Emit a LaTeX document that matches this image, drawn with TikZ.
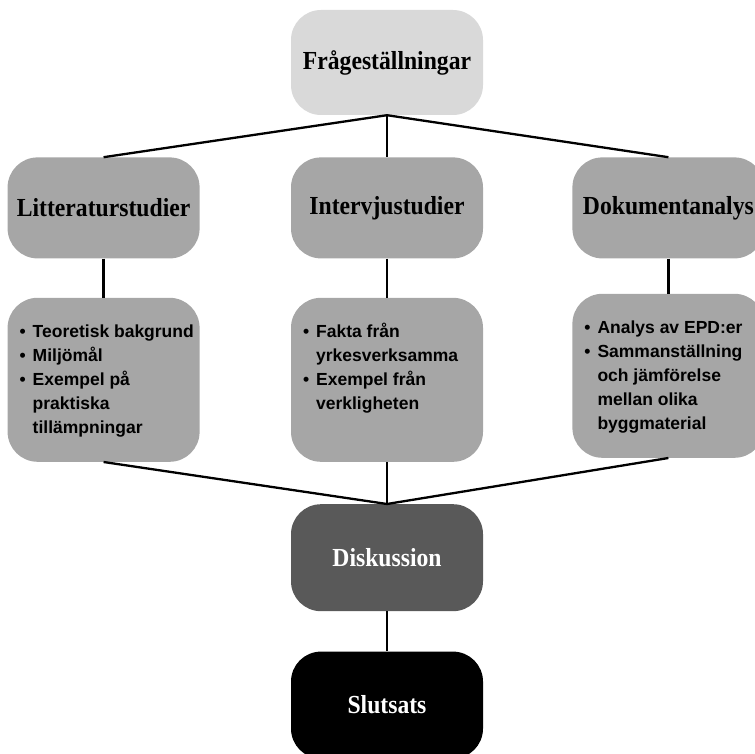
\documentclass[tikz,border=0pt]{standalone}
\usepackage{fontspec}
\setmainfont{Liberation Serif}
\newfontfamily\capfont[FakeStretch=0.91]{Liberation Serif}
\newfontfamily\bulletfont{Liberation Sans}
\usetikzlibrary{positioning}
\definecolor{questfill}{HTML}{D9D9D9}
\definecolor{methodfill}{HTML}{A6A6A6}
\definecolor{discfill}{HTML}{595959}
\newcommand{\factlist}[1]{\parbox[c][118pt][t]{168pt}{\begin{tabular}[t]{@{}c@{\hspace{7pt}}l@{}}#1\end{tabular}}}

\begin{document}
\begin{tikzpicture}[
  x=1pt, y=1pt,
  stage/.style={rounded corners=30pt, minimum width=192pt, minimum height=104pt, inner sep=0pt, align=center, font=\capfont\bfseries\fontsize{26}{30}\selectfont},
  quest/.style={stage, fill=questfill, minimum height=105pt},
  method/.style={stage, fill=methodfill, minimum height=101pt},
  result/.style={stage, text=white, minimum height=107pt},
  factbox/.style={rounded corners=30pt, fill=methodfill, minimum width=192pt, inner xsep=12pt, inner ysep=23pt, font=\bulletfont\bfseries\fontsize{17.5}{24}\selectfont},
  link/.style={line width=2.3pt, black}
]
  \useasboundingbox (0,0) rectangle (755,-754);
  \clip (0,0) rectangle (755,-754);
  \node[quest] (fraga) at (387,-62.5) {Frågeställningar};
  \node[method, below=42pt of fraga] (intervju) {Intervjustudier};
  \node[method, left=91pt of intervju] (litt) {Litteraturstudier};
  \node[method, right=89pt of intervju] (dok) {Dokumentanalys};
  % fakta under varje metod
  \node[factbox, below=39pt of litt] (littfakta) {\factlist{• & Teoretisk bakgrund\\ • & Miljömål\\ • & Exempel på\\ & praktiska\\ & tillämpningar}};
  \node[factbox, below=39pt of intervju] (intfakta) {\factlist{• & Fakta från\\ & yrkesverksamma\\ • & Exempel från\\ & verkligheten}};
  \node[factbox, below=35pt of dok] (dokfakta) {\factlist{• & Analys av EPD:er\\ • & Sammanställning\\ & och jämförelse\\ & mellan olika\\ & byggmaterial}};
  \node[result, fill=discfill, below=42pt of intfakta] (diskussion) {Diskussion};
  \node[result, fill=black, below=40pt of diskussion] (slutsats) {Slutsats};
  \draw[link] (fraga.south) -- (litt.north);
  \draw[link] (fraga.south) -- (intervju.north);
  \draw[link] (fraga.south) -- (dok.north);
  \draw[link] (litt) -- (littfakta);
  \draw[link] (intervju) -- (intfakta);
  \draw[link] (dok) -- (dokfakta);
  \draw[link] (littfakta.south) -- (diskussion.north);
  \draw[link] (intfakta.south) -- (diskussion.north);
  \draw[link] (dokfakta.south) -- (diskussion.north);
  \draw[link] (diskussion) -- (slutsats);
\end{tikzpicture}
\end{document}
